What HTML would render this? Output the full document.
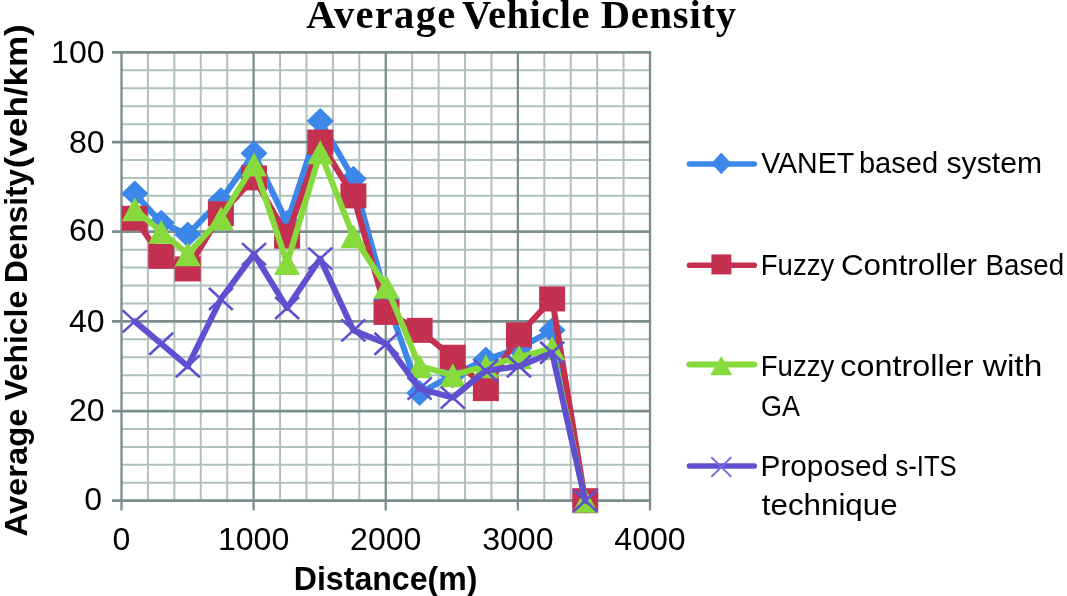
<!DOCTYPE html><html><head><meta charset="utf-8"><title>Average Vehicle Density</title><style>html,body{margin:0;padding:0;background:#fff;}svg{display:block;will-change:transform;filter:blur(0.45px);}text{font-family:"Liberation Sans",sans-serif;fill:#000;}</style></head><body>
<svg width="1067" height="596" viewBox="0 0 1067 596">
<rect width="1067" height="596" fill="#fff"/>
<path d="M147.93 52.40V500.70M174.35 52.40V500.70M200.78 52.40V500.70M227.20 52.40V500.70M280.05 52.40V500.70M306.48 52.40V500.70M332.90 52.40V500.70M359.32 52.40V500.70M412.18 52.40V500.70M438.60 52.40V500.70M465.02 52.40V500.70M491.45 52.40V500.70M544.30 52.40V500.70M570.73 52.40V500.70M597.15 52.40V500.70M623.58 52.40V500.70M121.50 482.77H650.00M121.50 464.84H650.00M121.50 446.90H650.00M121.50 428.97H650.00M121.50 393.11H650.00M121.50 375.18H650.00M121.50 357.24H650.00M121.50 339.31H650.00M121.50 303.45H650.00M121.50 285.52H650.00M121.50 267.58H650.00M121.50 249.65H650.00M121.50 213.79H650.00M121.50 195.86H650.00M121.50 177.92H650.00M121.50 159.99H650.00M121.50 124.13H650.00M121.50 106.20H650.00M121.50 88.26H650.00M121.50 70.33H650.00" stroke="#afc1bf" stroke-width="2" fill="none"/>
<path d="M121.50 51.10V510.50M253.62 51.10V510.50M385.75 51.10V510.50M517.88 51.10V510.50M650.00 51.10V510.50" stroke="#7b8e8e" stroke-width="2.3" fill="none"/>
<path d="M112.00 500.70H651.15M112.00 411.04H651.15M112.00 321.38H651.15M112.00 231.72H651.15M112.00 142.06H651.15M112.00 52.40H651.15" stroke="#7b8e8e" stroke-width="2.7" fill="none"/>
<path d="M134.75 193.61 L161.25 222.75 L187.75 234.41 L220.88 200.34 L254.00 153.27 L287.12 222.75 L320.25 120.99 L353.38 178.82 L386.50 298.96 L419.62 393.11 L452.75 375.18 L485.88 359.49 L519.00 348.28 L552.12 330.35 L585.25 500.70" stroke="#3d86ea" stroke-width="6" fill="none" stroke-linejoin="round" stroke-linecap="round"/>
<path d="M134.75 180.61L148.25 193.61L134.75 206.61L121.25 193.61Z" fill="#3d86ea"/>
<path d="M161.25 209.75L174.75 222.75L161.25 235.75L147.75 222.75Z" fill="#3d86ea"/>
<path d="M187.75 221.41L201.25 234.41L187.75 247.41L174.25 234.41Z" fill="#3d86ea"/>
<path d="M220.88 187.34L234.38 200.34L220.88 213.34L207.38 200.34Z" fill="#3d86ea"/>
<path d="M254.00 140.27L267.50 153.27L254.00 166.27L240.50 153.27Z" fill="#3d86ea"/>
<path d="M287.12 209.75L300.62 222.75L287.12 235.75L273.62 222.75Z" fill="#3d86ea"/>
<path d="M320.25 107.99L333.75 120.99L320.25 133.99L306.75 120.99Z" fill="#3d86ea"/>
<path d="M353.38 165.82L366.88 178.82L353.38 191.82L339.88 178.82Z" fill="#3d86ea"/>
<path d="M386.50 285.96L400.00 298.96L386.50 311.96L373.00 298.96Z" fill="#3d86ea"/>
<path d="M419.62 380.11L433.12 393.11L419.62 406.11L406.12 393.11Z" fill="#3d86ea"/>
<path d="M452.75 362.18L466.25 375.18L452.75 388.18L439.25 375.18Z" fill="#3d86ea"/>
<path d="M485.88 346.49L499.38 359.49L485.88 372.49L472.38 359.49Z" fill="#3d86ea"/>
<path d="M519.00 335.28L532.50 348.28L519.00 361.28L505.50 348.28Z" fill="#3d86ea"/>
<path d="M552.12 317.35L565.62 330.35L552.12 343.35L538.62 330.35Z" fill="#3d86ea"/>
<path d="M585.25 487.70L598.75 500.70L585.25 513.70L571.75 500.70Z" fill="#3d86ea"/>
<path d="M134.75 218.27 L161.25 256.38 L187.75 268.93 L220.88 213.79 L254.00 177.92 L287.12 236.20 L320.25 142.06 L353.38 195.86 L386.50 312.41 L419.62 330.35 L452.75 357.24 L485.88 388.62 L519.00 334.83 L552.12 298.96 L585.25 500.70" stroke="#c4304f" stroke-width="6" fill="none" stroke-linejoin="round" stroke-linecap="round"/>
<rect x="121.75" y="205.77" width="26.00" height="25.00" fill="#c4304f"/>
<rect x="148.25" y="243.88" width="26.00" height="25.00" fill="#c4304f"/>
<rect x="174.75" y="256.43" width="26.00" height="25.00" fill="#c4304f"/>
<rect x="207.88" y="201.29" width="26.00" height="25.00" fill="#c4304f"/>
<rect x="241.00" y="165.42" width="26.00" height="25.00" fill="#c4304f"/>
<rect x="274.12" y="223.70" width="26.00" height="25.00" fill="#c4304f"/>
<rect x="307.25" y="129.56" width="26.00" height="25.00" fill="#c4304f"/>
<rect x="340.38" y="183.36" width="26.00" height="25.00" fill="#c4304f"/>
<rect x="373.50" y="299.91" width="26.00" height="25.00" fill="#c4304f"/>
<rect x="406.62" y="317.85" width="26.00" height="25.00" fill="#c4304f"/>
<rect x="439.75" y="344.74" width="26.00" height="25.00" fill="#c4304f"/>
<rect x="472.88" y="376.12" width="26.00" height="25.00" fill="#c4304f"/>
<rect x="506.00" y="322.33" width="26.00" height="25.00" fill="#c4304f"/>
<rect x="539.12" y="286.46" width="26.00" height="25.00" fill="#c4304f"/>
<rect x="572.25" y="488.20" width="26.00" height="25.00" fill="#c4304f"/>
<path d="M134.75 209.31 L161.25 231.72 L187.75 254.13 L220.88 218.27 L254.00 164.47 L287.12 263.10 L320.25 152.37 L353.38 236.20 L386.50 286.86 L419.62 366.21 L452.75 375.18 L485.88 366.21 L519.00 357.24 L552.12 348.28 L585.25 500.70" stroke="#86da3c" stroke-width="6" fill="none" stroke-linejoin="round" stroke-linecap="round"/>
<path d="M134.75 197.31L147.75 221.31L121.75 221.31Z" fill="#86da3c"/>
<path d="M161.25 219.72L174.25 243.72L148.25 243.72Z" fill="#86da3c"/>
<path d="M187.75 242.13L200.75 266.13L174.75 266.13Z" fill="#86da3c"/>
<path d="M220.88 206.27L233.88 230.27L207.88 230.27Z" fill="#86da3c"/>
<path d="M254.00 152.47L267.00 176.47L241.00 176.47Z" fill="#86da3c"/>
<path d="M287.12 251.10L300.12 275.10L274.12 275.10Z" fill="#86da3c"/>
<path d="M320.25 140.37L333.25 164.37L307.25 164.37Z" fill="#86da3c"/>
<path d="M353.38 224.20L366.38 248.20L340.38 248.20Z" fill="#86da3c"/>
<path d="M386.50 274.86L399.50 298.86L373.50 298.86Z" fill="#86da3c"/>
<path d="M419.62 354.21L432.62 378.21L406.62 378.21Z" fill="#86da3c"/>
<path d="M452.75 363.18L465.75 387.18L439.75 387.18Z" fill="#86da3c"/>
<path d="M485.88 354.21L498.88 378.21L472.88 378.21Z" fill="#86da3c"/>
<path d="M519.00 345.24L532.00 369.24L506.00 369.24Z" fill="#86da3c"/>
<path d="M552.12 336.28L565.12 360.28L539.12 360.28Z" fill="#86da3c"/>
<path d="M585.25 488.70L598.25 512.70L572.25 512.70Z" fill="#86da3c"/>
<path d="M134.75 321.38 L161.25 343.79 L187.75 366.21 L220.88 298.96 L254.00 254.13 L287.12 307.93 L320.25 258.62 L353.38 330.35 L386.50 343.79 L419.62 388.62 L452.75 397.59 L485.88 370.69 L519.00 366.21 L552.12 352.76 L585.25 500.70" stroke="#6050d0" stroke-width="6" fill="none" stroke-linejoin="round" stroke-linecap="round"/>
<path d="M122.75 310.38L146.75 332.38M122.75 332.38L146.75 310.38" stroke="#6050d0" stroke-width="2.6" fill="none"/>
<path d="M149.25 332.79L173.25 354.79M149.25 354.79L173.25 332.79" stroke="#6050d0" stroke-width="2.6" fill="none"/>
<path d="M175.75 355.21L199.75 377.21M175.75 377.21L199.75 355.21" stroke="#6050d0" stroke-width="2.6" fill="none"/>
<path d="M208.88 287.96L232.88 309.96M208.88 309.96L232.88 287.96" stroke="#6050d0" stroke-width="2.6" fill="none"/>
<path d="M242.00 243.13L266.00 265.13M242.00 265.13L266.00 243.13" stroke="#6050d0" stroke-width="2.6" fill="none"/>
<path d="M275.12 296.93L299.12 318.93M275.12 318.93L299.12 296.93" stroke="#6050d0" stroke-width="2.6" fill="none"/>
<path d="M308.25 247.62L332.25 269.62M308.25 269.62L332.25 247.62" stroke="#6050d0" stroke-width="2.6" fill="none"/>
<path d="M341.38 319.35L365.38 341.35M341.38 341.35L365.38 319.35" stroke="#6050d0" stroke-width="2.6" fill="none"/>
<path d="M374.50 332.79L398.50 354.79M374.50 354.79L398.50 332.79" stroke="#6050d0" stroke-width="2.6" fill="none"/>
<path d="M407.62 377.62L431.62 399.62M407.62 399.62L431.62 377.62" stroke="#6050d0" stroke-width="2.6" fill="none"/>
<path d="M440.75 386.59L464.75 408.59M440.75 408.59L464.75 386.59" stroke="#6050d0" stroke-width="2.6" fill="none"/>
<path d="M473.88 359.69L497.88 381.69M473.88 381.69L497.88 359.69" stroke="#6050d0" stroke-width="2.6" fill="none"/>
<path d="M507.00 355.21L531.00 377.21M507.00 377.21L531.00 355.21" stroke="#6050d0" stroke-width="2.6" fill="none"/>
<path d="M540.12 341.76L564.12 363.76M540.12 363.76L564.12 341.76" stroke="#6050d0" stroke-width="2.6" fill="none"/>
<path d="M573.25 489.70L597.25 511.70M573.25 511.70L597.25 489.70" stroke="#6050d0" stroke-width="2.6" fill="none"/>
<text x="84.16" y="509.50" style="font-size:31px" textLength="17.84" lengthAdjust="spacingAndGlyphs">0</text>
<text x="68.92" y="421.44" style="font-size:31px" textLength="35.68" lengthAdjust="spacingAndGlyphs">20</text>
<text x="68.92" y="331.68" style="font-size:31px" textLength="35.68" lengthAdjust="spacingAndGlyphs">40</text>
<text x="68.92" y="241.22" style="font-size:31px" textLength="35.68" lengthAdjust="spacingAndGlyphs">60</text>
<text x="68.92" y="152.86" style="font-size:31px" textLength="35.68" lengthAdjust="spacingAndGlyphs">80</text>
<text x="51.08" y="62.90" style="font-size:31px" textLength="53.52" lengthAdjust="spacingAndGlyphs">100</text>
<text x="112.58" y="550.3" style="font-size:31px" textLength="17.84" lengthAdjust="spacingAndGlyphs">0</text>
<text x="217.95" y="550.3" style="font-size:31px" textLength="71.36" lengthAdjust="spacingAndGlyphs">1000</text>
<text x="350.07" y="550.3" style="font-size:31px" textLength="71.36" lengthAdjust="spacingAndGlyphs">2000</text>
<text x="482.20" y="550.3" style="font-size:31px" textLength="71.36" lengthAdjust="spacingAndGlyphs">3000</text>
<text x="614.32" y="550.3" style="font-size:31px" textLength="71.36" lengthAdjust="spacingAndGlyphs">4000</text>
<path d="M689.5 164.00H754.3" stroke="#3d86ea" stroke-width="5.6" stroke-linecap="round"/>
<path d="M721.30 152.60L731.30 163.40L721.30 174.20L711.30 163.40Z" fill="#3d86ea"/>
<path d="M689.5 265.20H754.3" stroke="#c4304f" stroke-width="5.6" stroke-linecap="round"/>
<rect x="711.40" y="254.40" width="20.00" height="20.00" fill="#c4304f"/>
<path d="M689.5 364.60H754.3" stroke="#86da3c" stroke-width="6.0" stroke-linecap="round"/>
<path d="M721.30 355.90L732.30 375.30L710.30 375.30Z" fill="#86da3c"/>
<path d="M689.5 466.00H754.3" stroke="#6050d0" stroke-width="5.6" stroke-linecap="round"/>
<path d="M711.3 457.1L731.3 476.9M711.3 476.9L731.3 457.1" stroke="#7668dc" stroke-width="2" fill="none"/>
<text x="761.18" y="173.30" style="font-size:30.3px" textLength="92.92" lengthAdjust="spacingAndGlyphs">VANET</text>
<text x="858.88" y="173.30" style="font-size:30.3px" textLength="79.18" lengthAdjust="spacingAndGlyphs">based</text>
<text x="946.53" y="173.30" style="font-size:30.3px" textLength="95.52" lengthAdjust="spacingAndGlyphs">system</text>
<text x="760.73" y="274.50" style="font-size:30.3px" textLength="73.53" lengthAdjust="spacingAndGlyphs">Fuzzy</text>
<text x="840.95" y="274.50" style="font-size:30.3px" textLength="136.14" lengthAdjust="spacingAndGlyphs">Controller</text>
<text x="985.62" y="274.50" style="font-size:30.3px" textLength="78.42" lengthAdjust="spacingAndGlyphs">Based</text>
<text x="760.73" y="375.90" style="font-size:30.3px" textLength="73.53" lengthAdjust="spacingAndGlyphs">Fuzzy</text>
<text x="840.37" y="375.90" style="font-size:30.3px" textLength="133.05" lengthAdjust="spacingAndGlyphs">controller</text>
<text x="982.70" y="375.90" style="font-size:30.3px" textLength="59.63" lengthAdjust="spacingAndGlyphs">with</text>
<text x="761.07" y="415.60" style="font-size:30.3px" textLength="38.96" lengthAdjust="spacingAndGlyphs">GA</text>
<text x="760.54" y="475.60" style="font-size:30.3px" textLength="127.48" lengthAdjust="spacingAndGlyphs">Proposed</text>
<text x="895.46" y="475.60" style="font-size:30.3px" textLength="61.20" lengthAdjust="spacingAndGlyphs">s-ITS</text>
<text x="761.78" y="515.30" style="font-size:30.3px" textLength="135.87" lengthAdjust="spacingAndGlyphs">technique</text>
<text x="306.32" y="28.20" style="font-family:'Liberation Serif',serif;font-weight:bold;font-size:40.5px" textLength="148.92" lengthAdjust="spacing">Average</text>
<text x="462.00" y="28.20" style="font-family:'Liberation Serif',serif;font-weight:bold;font-size:40.5px" textLength="127.40" lengthAdjust="spacing">Vehicle</text>
<text x="600.75" y="28.20" style="font-family:'Liberation Serif',serif;font-weight:bold;font-size:40.5px" textLength="135.23" lengthAdjust="spacing">Density</text>
<text transform="rotate(-90)" x="-536.46" y="27.40" style="font-weight:bold;font-size:32.2px" textLength="127.77" lengthAdjust="spacingAndGlyphs">Average</text>
<text transform="rotate(-90)" x="-400.75" y="27.40" style="font-weight:bold;font-size:32.2px" textLength="109.92" lengthAdjust="spacingAndGlyphs">Vehicle</text>
<text transform="rotate(-90)" x="-282.88" y="27.40" style="font-weight:bold;font-size:32.2px" textLength="113.94" lengthAdjust="spacingAndGlyphs">Density</text>
<text transform="rotate(-90)" x="-168.17" y="27.40" style="font-weight:bold;font-size:32.2px" textLength="143.83" lengthAdjust="spacingAndGlyphs">(veh/km)</text>
<text x="293.81" y="589.80" style="font-weight:bold;font-size:33px" textLength="183.58" lengthAdjust="spacingAndGlyphs">Distance(m)</text>
</svg></body></html>
